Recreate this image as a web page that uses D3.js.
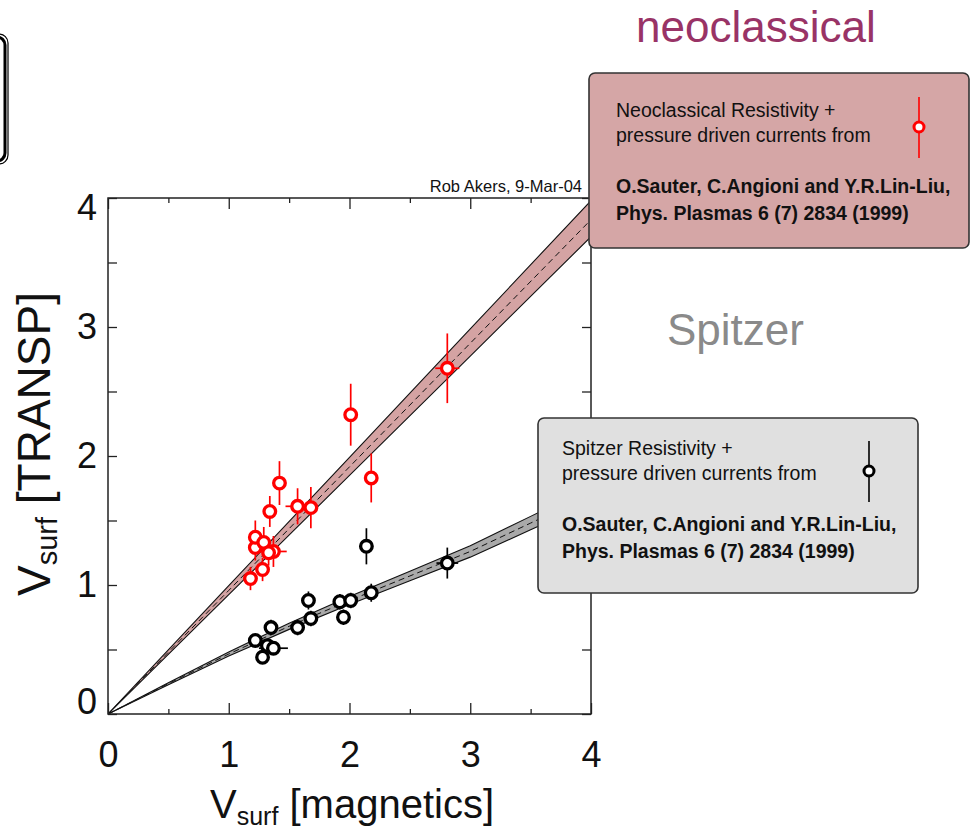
<!DOCTYPE html>
<html>
<head>
<meta charset="utf-8">
<script src="https://cdn.jsdelivr.net/npm/d3@7"></script>
<style>
  html, body { margin: 0; padding: 0; background: #ffffff; }
  svg { display: block; }
  text { font-family: "Liberation Sans", Arial, Helvetica, sans-serif; }
</style>
</head>
<body>
<svg id="chart" width="971" height="833"></svg>
<script>
// ---------------- data ----------------
const majorTicks = [0, 1, 2, 3, 4];
const minorTicks = [0.5, 1.5, 2.5, 3.5];

// Neoclassical resistivity (red)
const neoX    = [1.18, 1.28, 1.22, 1.22, 1.29, 1.37, 1.33, 1.34, 1.42, 1.57, 1.68, 2.01, 2.18, 2.81];
const neoY    = [1.05, 1.12, 1.29, 1.37, 1.33, 1.26, 1.25, 1.57, 1.79, 1.61, 1.60, 2.32, 1.83, 2.68];
const neoYErr = [0.09, 0.09, 0.10, 0.13, 0.12, 0.12, 0.10, 0.12, 0.17, 0.14, 0.16, 0.24, 0.19, 0.27];
const neoXErr = [0.03, 0.03, 0.03, 0.03, 0.03, 0.11, 0.03, 0.03, 0.03, 0.10, 0.03, 0.03, 0.03, 0.10];

// Spitzer resistivity (black)
const spX    = [1.22, 1.28, 1.35, 1.32, 1.37, 1.57, 1.66, 1.68, 1.92, 1.95, 2.01, 2.14, 2.18, 2.81];
const spY    = [0.57, 0.44, 0.67, 0.53, 0.51, 0.67, 0.88, 0.74, 0.87, 0.75, 0.88, 1.30, 0.94, 1.17];
const spYErr = [0.05, 0.05, 0.06, 0.05, 0.05, 0.06, 0.07, 0.06, 0.06, 0.06, 0.06, 0.14, 0.07, 0.12];
const spXErr = [0.05, 0.04, 0.04, 0.04, 0.12, 0.05, 0.04, 0.05, 0.05, 0.04, 0.04, 0.03, 0.05, 0.09];

// Model bands (V_surf TRANSP vs V_surf magnetics)
const neoBandX    = [0, 1, 2, 3, 4];
const neoBandLow  = [0, 0.925, 1.85, 2.775, 3.70];
const neoBandMid  = [0, 0.958, 1.916, 2.874, 3.832];
const neoBandHigh = [0, 0.995, 1.99, 2.985, 3.98];

const spBandX    = [0, 0.5, 1, 1.5, 2, 2.5, 3, 3.5, 4];
const spBandLow  = [0, 0.227, 0.449, 0.656, 0.849, 1.033, 1.216, 1.428, 1.640];
const spBandMid  = [0, 0.235, 0.465, 0.680, 0.880, 1.070, 1.260, 1.480, 1.700];
const spBandHigh = [0, 0.243, 0.481, 0.704, 0.911, 1.107, 1.304, 1.532, 1.760];

// ---------------- drawing ----------------
const svg = d3.select("#chart");
const x = d3.scaleLinear().domain([0, 4]).range([108, 591]);
const y = d3.scaleLinear().domain([0, 4]).range([714, 198]);

// top-left partial box
svg.append("rect").attr("x", -60).attr("y", 37).attr("width", 65).attr("height", 124)
  .attr("rx", 8).attr("fill", "none").attr("stroke", "#000").attr("stroke-width", 3);
svg.append("rect").attr("x", -60).attr("y", 34).attr("width", 68).attr("height", 130)
  .attr("rx", 9).attr("fill", "none").attr("stroke", "#000").attr("stroke-width", 1.2);

svg.append("defs").append("clipPath").attr("id", "plotclip")
  .append("rect").attr("x", 108).attr("y", 198).attr("width", 483).attr("height", 516);

const plot = svg.append("g").attr("clip-path", "url(#plotclip)");

function drawBand(bx, lo, mid, hi, fill) {
  const rows = bx.map((v, i) => ({ x: v, lo: lo[i], mid: mid[i], hi: hi[i] }));
  plot.append("path").datum(rows)
    .attr("d", d3.area().x(d => x(d.x)).y0(d => y(d.lo)).y1(d => y(d.hi)))
    .attr("fill", fill).attr("stroke", "none");
  const edge = k => d3.line().x(d => x(d.x)).y(d => y(d[k]));
  plot.append("path").datum(rows).attr("d", edge("lo"))
    .attr("fill", "none").attr("stroke", "#111").attr("stroke-width", 1.1);
  plot.append("path").datum(rows).attr("d", edge("hi"))
    .attr("fill", "none").attr("stroke", "#111").attr("stroke-width", 1.1);
  plot.append("path").datum(rows).attr("d", edge("mid"))
    .attr("fill", "none").attr("stroke", "#111").attr("stroke-width", 1)
    .attr("stroke-dasharray", "6,4");
}
drawBand(neoBandX, neoBandLow, neoBandMid, neoBandHigh, "#d4a3a3");
drawBand(spBandX, spBandLow, spBandMid, spBandHigh, "#a9a9a9");

function drawPoints(xs, ys, xe, ye, color) {
  const rows = xs.map((v, i) => ({ x: v, y: ys[i], xe: xe[i], ye: ye[i] }));
  const g = plot.append("g");
  g.selectAll("line.ey").data(rows).enter().append("line")
    .attr("x1", d => x(d.x)).attr("x2", d => x(d.x))
    .attr("y1", d => y(d.y - d.ye)).attr("y2", d => y(d.y + d.ye))
    .attr("stroke", color).attr("stroke-width", 1.7);
  g.selectAll("line.ex").data(rows).enter().append("line")
    .attr("x1", d => x(d.x - d.xe)).attr("x2", d => x(d.x + d.xe))
    .attr("y1", d => y(d.y)).attr("y2", d => y(d.y))
    .attr("stroke", color).attr("stroke-width", 1.7);
  g.selectAll("circle").data(rows).enter().append("circle")
    .attr("cx", d => x(d.x)).attr("cy", d => y(d.y)).attr("r", 5.8)
    .attr("fill", "#fff").attr("stroke", color).attr("stroke-width", 3.3);
}
drawPoints(spX, spY, spXErr, spYErr, "#000");
drawPoints(neoX, neoY, neoXErr, neoYErr, "#ff0000");

// axes
function styleAxis(g) {
  g.select(".domain").remove();
  g.selectAll(".tick line").attr("stroke", "#222").attr("stroke-width", 1.3);
  g.selectAll("text").attr("fill", "#111").style("font-family", "Liberation Sans, Arial, sans-serif");
}
const fmt = d3.format("d");
svg.append("g").attr("transform", "translate(0,714)")
  .call(d3.axisBottom(x).tickValues(majorTicks).tickFormat(fmt).tickSizeInner(-11).tickSizeOuter(0).tickPadding(27))
  .call(styleAxis).selectAll("text").style("font-size", "36px");
svg.append("g").attr("transform", "translate(0,714)")
  .call(d3.axisBottom(x).tickValues(minorTicks).tickFormat("").tickSizeInner(-5).tickSizeOuter(0))
  .call(styleAxis);
svg.append("g").attr("transform", "translate(0,198)")
  .call(d3.axisTop(x).tickValues(majorTicks).tickFormat("").tickSizeInner(-11).tickSizeOuter(0))
  .call(styleAxis);
svg.append("g").attr("transform", "translate(0,198)")
  .call(d3.axisTop(x).tickValues(minorTicks).tickFormat("").tickSizeInner(-5).tickSizeOuter(0))
  .call(styleAxis);
const yAxisG = svg.append("g").attr("transform", "translate(108,0)")
  .call(d3.axisLeft(y).tickValues(majorTicks).tickFormat(fmt).tickSizeInner(-9).tickSizeOuter(0).tickPadding(11))
  .call(styleAxis);
yAxisG.selectAll("text").style("font-size", "36px")
  .attr("y", d => d === 0 ? -12 : (d === 4 ? 10 : 0));
svg.append("g").attr("transform", "translate(108,0)")
  .call(d3.axisLeft(y).tickValues(minorTicks).tickFormat("").tickSizeInner(-9).tickSizeOuter(0))
  .call(styleAxis);
svg.append("g").attr("transform", "translate(591,0)")
  .call(d3.axisRight(y).tickValues(majorTicks.concat(minorTicks)).tickFormat("").tickSizeInner(-9).tickSizeOuter(0))
  .call(styleAxis);

// frame
svg.append("rect").attr("x", 108).attr("y", 198).attr("width", 483).attr("height", 516)
  .attr("fill", "none").attr("stroke", "#222").attr("stroke-width", 1.5);

// credit
svg.append("text").attr("x", 582).attr("y", 192).attr("text-anchor", "end")
  .style("font-size", "16.5px").attr("fill", "#111").text("Rob Akers, 9-Mar-04");

// axis titles
const xt = svg.append("text").attr("x", 210).attr("y", 818).attr("fill", "#111").style("font-size", "40px");
xt.append("tspan").text("V");
xt.append("tspan").attr("dy", 7).style("font-size", "25px").text("surf");
xt.append("tspan").attr("dy", -7).text(" [magnetics]");

const yt = svg.append("text").attr("transform", "translate(50,596) rotate(-90)").attr("fill", "#111").style("font-size", "46px");
yt.append("tspan").text("V");
yt.append("tspan").attr("dy", 7).style("font-size", "29px").text("surf");
yt.append("tspan").attr("dy", -7).text(" [TRANSP]");

// legend boxes
function legendBox(bx, by, bw, bh, fill, line1, line2, cite1, cite2, tx, base, sx, sy, color) {
  const g = svg.append("g");
  g.append("rect").attr("x", bx).attr("y", by).attr("width", bw).attr("height", bh).attr("rx", 6)
    .attr("fill", fill).attr("stroke", "#333").attr("stroke-width", 1.6);
  g.append("text").attr("x", tx).attr("y", base).style("font-size", "19.5px").attr("fill", "#111").text(line1);
  g.append("text").attr("x", tx).attr("y", base + 25).style("font-size", "19.5px").attr("fill", "#111").text(line2);
  g.append("text").attr("x", tx).attr("y", base + 76).style("font-size", "19.5px").style("font-weight", "bold").attr("fill", "#111").text(cite1);
  g.append("text").attr("x", tx).attr("y", base + 103).style("font-size", "19.5px").style("font-weight", "bold").attr("fill", "#111").text(cite2);
  g.append("line").attr("x1", sx).attr("x2", sx).attr("y1", sy - 30).attr("y2", sy + 31)
    .attr("stroke", color).attr("stroke-width", 1.6);
  g.append("circle").attr("cx", sx).attr("cy", sy).attr("r", 5).attr("fill", "#fff")
    .attr("stroke", color).attr("stroke-width", 3);
}
legendBox(589, 73, 380, 175, "#d5a6a6",
  "Neoclassical Resistivity +", "pressure driven currents from",
  "O.Sauter, C.Angioni and Y.R.Lin-Liu,", "Phys. Plasmas 6 (7) 2834 (1999)",
  616, 117, 919, 127, "#ff0000");
legendBox(538, 418, 380, 175, "#e0e0e0",
  "Spitzer Resistivity +", "pressure driven currents from",
  "O.Sauter, C.Angioni and Y.R.Lin-Liu,", "Phys. Plasmas 6 (7) 2834 (1999)",
  562, 455, 869, 471, "#000");

// annotations
svg.append("text").attr("x", 636).attr("y", 42).style("font-size", "44px").attr("fill", "#993366").text("neoclassical");
svg.append("text").attr("x", 667).attr("y", 345).style("font-size", "44px").attr("fill", "#8a8a8a").text("Spitzer");
</script>
</body>
</html>
